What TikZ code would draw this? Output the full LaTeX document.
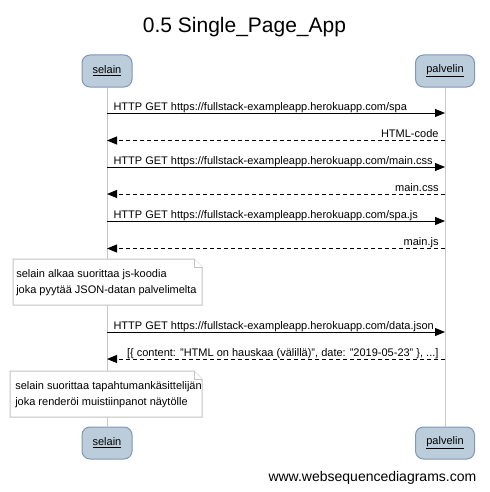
\documentclass[tikz,border=0pt]{standalone}
\usepackage{fontspec}
\setmainfont{Liberation Sans}
\usetikzlibrary{arrows.meta}
\definecolor{actor_fill}{RGB}{187,204,219}
\definecolor{actor_line}{RGB}{128,150,180}
\definecolor{life_gray}{RGB}{200,200,200}
\definecolor{note_gray}{RGB}{195,195,195}
\tikzset{
  actor/.style={draw=actor_line, fill=actor_fill, line width=0.75pt, rounded corners=6pt,
    minimum height=24pt, inner sep=0pt, font=\fontsize{8.25}{10}\selectfont},
  lifeline/.style={draw=life_gray, line width=0.75pt},
  req/.style={line width=0.75pt, -{Triangle[length=7.5pt,width=6pt]}},
  resp/.style={req, dash pattern=on 3pt off 2.25pt},
  msg/.style={inner sep=0pt, font=\fontsize{8.25}{10}\selectfont},
  notebox/.style={draw=note_gray, fill=white, line width=0.75pt},
  notetext/.style={inner sep=0pt, align=left, anchor=west, font=\fontsize{8.25}{12}\selectfont}
}

\begin{document}
\begin{tikzpicture}[x=0.75pt, y=-0.75pt]
    \useasboundingbox (0,0) rectangle (489,492);
    \node[font=\fontsize{15.75}{18}\selectfont, anchor=base] (title) at (244.5,33) {0.5 Single\_Page\_App};

    % participants, top and bottom
    \node[actor, minimum width=37.5pt] (selainTop) at (107,71) {\underline{selain}};
    \node[actor, minimum width=44.25pt] (palvelinTop) at (445,71) {\underline{palvelin}};
    \node[actor, minimum width=37.5pt] (selainBot) at (107,443) {\underline{selain}};
    \node[actor, minimum width=44.25pt] (palvelinBot) at (445,443) {\underline{palvelin}};

    \draw[lifeline] (selainTop) -- (selainBot);
    \draw[lifeline] (palvelinTop) -- (palvelinBot);

    % message rows on the lifelines
    \foreach \i/\y in {1/113, 2/140.5, 3/167, 4/194, 5/221, 6/248.5, 7/332, 8/359}{
        \coordinate (s\i) at (selainTop.center |- 0,\y);
        \coordinate (p\i) at (palvelinTop.center |- 0,\y);
    }

    \draw[req] (s1) -- (p1) node[msg, pos=0, anchor=base west, xshift=4.5pt, yshift=1.9pt] {HTTP GET https://fullstack-exampleapp.herokuapp.com/spa};
    \draw[resp] (p2) -- (s2) node[msg, pos=0, anchor=base east, xshift=-4.5pt, yshift=1.9pt] {HTML-code};
    \draw[req] (s3) -- (p3) node[msg, pos=0, anchor=base west, xshift=4.5pt, yshift=1.9pt] {HTTP GET https://fullstack-exampleapp.herokuapp.com/main.css};
    \draw[resp] (p4) -- (s4) node[msg, pos=0, anchor=base east, xshift=-4.5pt, yshift=1.9pt] {main.css};
    \draw[req] (s5) -- (p5) node[msg, pos=0, anchor=base west, xshift=4.5pt, yshift=1.9pt] {HTTP GET https://fullstack-exampleapp.herokuapp.com/spa.js};
    \draw[resp] (p6) -- (s6) node[msg, pos=0, anchor=base east, xshift=-4.5pt, yshift=1.9pt] {main.js};

    % note 1
    \filldraw[notebox] (13,259) -- (194,259) -- (202,267) -- (202,305) -- (13,305) -- cycle;
    \draw[notebox] (194,259) |- (202,267);
    \node[notetext] (note1) at (16,283) {selain alkaa suorittaa js-koodia\\joka pyytää JSON-datan palvelimelta};

    \draw[req] (s7) -- (p7) node[msg, pos=0, anchor=base west, xshift=4.5pt, yshift=1.9pt] {HTTP GET https://fullstack-exampleapp.herokuapp.com/data.json};
    \draw[resp] (p8) -- (s8) node[msg, pos=0, anchor=base east, xshift=-4.5pt, yshift=1.9pt] {[\{ content: "HTML on hauskaa (välillä)", date: "2019-05-23" \}, ...]};

    % note 2
    \filldraw[notebox] (10,371) -- (194,371) -- (202,379) -- (202,417) -- (10,417) -- cycle;
    \draw[notebox] (194,371) |- (202,379);
    \node[notetext] (note2) at (15,394.5) {selain suorittaa tapahtumankäsittelijän\\joka renderöi muistiinpanot näytölle};

    \node[font=\fontsize{10.5}{12}\selectfont, anchor=base east] (wsd) at (481,481) {www.websequencediagrams.com};
\end{tikzpicture}
\end{document}
